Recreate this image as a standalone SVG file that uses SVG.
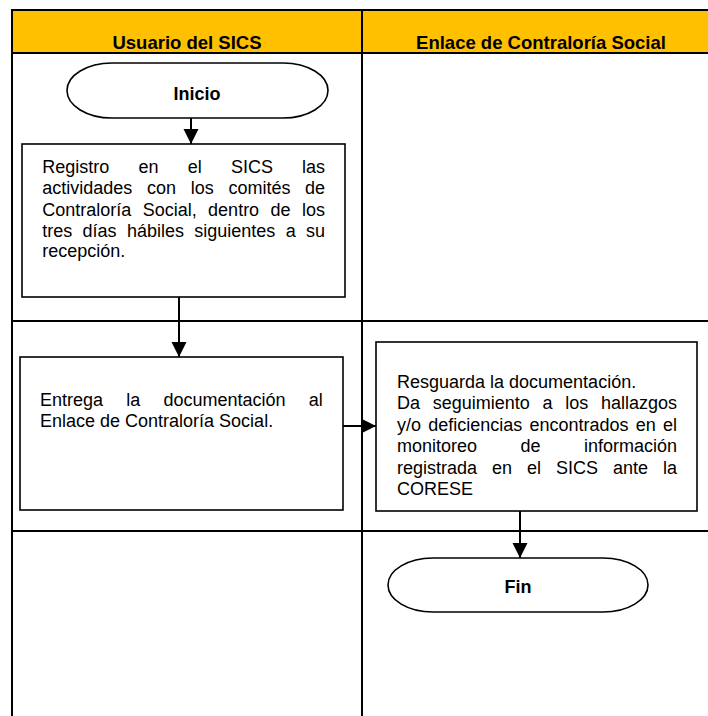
<svg xmlns="http://www.w3.org/2000/svg" width="708" height="716" viewBox="0 0 708 716">
<style>
.grid{stroke:#000;stroke-width:2;fill:none}
.box{fill:#fff;stroke:#000;stroke-width:1.6}
.term{fill:#fff;stroke:#000;stroke-width:1.6}
.hdr{font-family:"Liberation Sans",Arial,sans-serif;font-weight:bold;font-size:18.5px;fill:#000;text-anchor:middle}
.tt{font-family:"Liberation Sans",Arial,sans-serif;font-weight:bold;font-size:18px;fill:#000;text-anchor:middle}
.t{font-family:"Liberation Sans",Arial,sans-serif;font-size:18px;fill:#000}
.conn{stroke:#000;stroke-width:2;fill:none;marker-end:url(#ah)}
</style>
<defs>
<marker id="ah" viewBox="0 0 10 10" refX="10" refY="5" markerUnits="userSpaceOnUse" markerWidth="15" markerHeight="16" orient="auto">
<path d="M0,0 L10,5 L0,10 z" fill="#000"/>
</marker>
</defs>
<rect width="708" height="716" fill="#fff"/>
<g id="lanes">
<rect x="12" y="10" width="696" height="43" fill="#FFC000"/>
<path class="grid" d="M11,10 H708 M12,10 V716 M362,10 V716 M12,53 H708 M12,321 H708 M12,531 H708"/>
<text class="hdr" x="187" y="49">Usuario del SICS</text>
<text class="hdr" x="541" y="49">Enlace de Contraloría Social</text>
</g>
<g id="connectors">
<path class="conn" d="M191,118 V144"/>
<path class="conn" d="M179,297 V357"/>
<path class="conn" d="M343,426 H376"/>
<path class="conn" d="M520,511 V558"/>
</g>
<g id="inicio">
<rect class="term" x="67" y="63" width="261" height="55" rx="45" ry="27.5"/>
<text class="tt" x="197" y="100">Inicio</text>
</g>
<g id="registro">
<rect class="box" x="22" y="144" width="323" height="153"/>
<text class="t" y="172.5"><tspan x="42.3">Registro</tspan><tspan x="138.5">en</tspan><tspan x="187.7">el</tspan><tspan x="230.9">SICS</tspan><tspan x="302.1">las</tspan></text>
<text class="t" y="194"><tspan x="42.3">actividades</tspan><tspan x="147">con</tspan><tspan x="190.7">los</tspan><tspan x="228.4">comités</tspan><tspan x="305.1">de</tspan></text>
<text class="t" y="215.5"><tspan x="42.3">Contraloría</tspan><tspan x="142.7">Social,</tspan><tspan x="208.1">dentro</tspan><tspan x="270.5">de</tspan><tspan x="301.9">los</tspan></text>
<text class="t" y="236.5"><tspan x="42.3">tres</tspan><tspan x="82.6">días</tspan><tspan x="127">hábiles</tspan><tspan x="194.3">siguientes</tspan><tspan x="285.7">a</tspan><tspan x="306">su</tspan></text>
<text class="t" x="42.3" y="257">recepción.</text>
</g>
<g id="entrega">
<rect class="box" x="20" y="357" width="323" height="153"/>
<text class="t" y="405.5"><tspan x="40">Entrega</tspan><tspan x="126.2">la</tspan><tspan x="163.4">documentación</tspan><tspan x="308.7">al</tspan></text>
<text class="t" x="40" y="427">Enlace de Contraloría Social.</text>
</g>
<g id="resguarda">
<rect class="box" x="376" y="342" width="321" height="169"/>
<text class="t" x="397" y="387.5">Resguarda la documentación.</text>
<text class="t" y="409"><tspan x="397">Da</tspan><tspan x="432.8">seguimiento</tspan><tspan x="542.5">a</tspan><tspan x="565.3">los</tspan><tspan x="601">hallazgos</tspan></text>
<text class="t" y="430.5"><tspan x="397">y/o</tspan><tspan x="428.3">deficiencias</tspan><tspan x="529.5">encontrados</tspan><tspan x="635.8">en</tspan><tspan x="663">el</tspan></text>
<text class="t" y="452"><tspan x="397">monitoreo</tspan><tspan x="520.5">de</tspan><tspan x="584">información</tspan></text>
<text class="t" y="473.5"><tspan x="397">registrada</tspan><tspan x="492">en</tspan><tspan x="527">el</tspan><tspan x="556">SICS</tspan><tspan x="613">ante</tspan><tspan x="663">la</tspan></text>
<text class="t" x="397" y="495">CORESE</text>
</g>
<g id="fin">
<rect class="term" x="388" y="558" width="260" height="54" rx="45" ry="27"/>
<text class="tt" x="518" y="593">Fin</text>
</g>
</svg>
